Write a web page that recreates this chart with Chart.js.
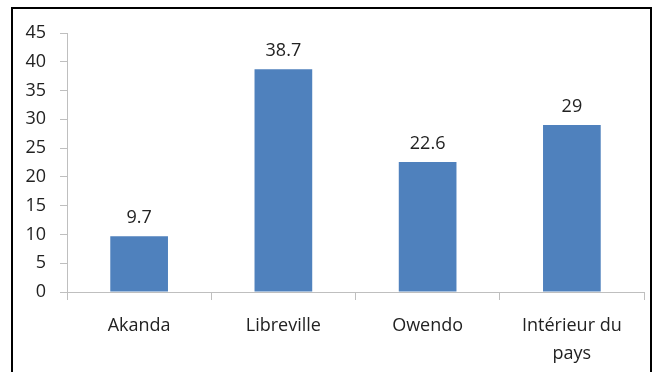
<!DOCTYPE html>
<html>
<head>
<meta charset="utf-8">
<script src="https://cdn.jsdelivr.net/npm/chart.js@4"></script>
<style>
  html, body { margin: 0; padding: 0; background: #fff; }
  #wrap { position: relative; width: 664px; height: 372px; }
  #frame {
    position: absolute; left: 11px; top: 7px; width: 641px; height: 380px;
    border: 2px solid #000; box-sizing: border-box; pointer-events: none;
  }
</style>
</head>
<body>
<div id="wrap">
  <canvas id="chart" width="664" height="372"></canvas>
  <div id="frame"></div>
</div>
<script>
const categories = ["Akanda", "Libreville", "Owendo", ["Intérieur du", "pays"]];
const values = [9.7, 38.7, 22.6, 29];
const yTicks = [0, 5, 10, 15, 20, 25, 30, 35, 40, 45];

const fontFamily = "'Open Sans', 'Noto Sans', sans-serif";

// write the value above each bar
const valueLabels = {
  id: "valueLabels",
  afterDatasetsDraw(chart) {
    const ctx = chart.ctx;
    const meta = chart.getDatasetMeta(0);
    ctx.save();
    ctx.font = "18px " + fontFamily;
    ctx.fillStyle = "#222";
    ctx.textAlign = "center";
    ctx.textBaseline = "middle";
    meta.data.forEach((bar, i) => {
      ctx.fillText(String(values[i]), bar.x, bar.y - 18);
    });
    ctx.restore();
  }
};

new Chart(document.getElementById("chart"), {
  type: "bar",
  data: {
    labels: categories,
    datasets: [{
      data: values,
      backgroundColor: "#4f81bd",
      borderWidth: 0,
      barPercentage: 0.4,
      categoryPercentage: 1
    }]
  },
  options: {
    responsive: false,
    animation: false,
    layout: { padding: { left: 0, right: 20, top: 33, bottom: 0 } },
    plugins: {
      legend: { display: false },
      tooltip: { enabled: false }
    },
    scales: {
      x: {
        grid: {
          offset: true,
          drawOnChartArea: false,
          drawTicks: true,
          tickLength: 8,
          color: "#bfbfbf"
        },
        border: { color: "#bfbfbf", width: 1 },
        ticks: {
          color: "#222",
          padding: 12,
          maxRotation: 0,
          font: { family: fontFamily, size: 18, lineHeight: 1.55 }
        },
        afterFit(scale) { scale.height = 80; }
      },
      y: {
        min: 0,
        max: 45,
        afterBuildTicks(scale) { scale.ticks = yTicks.map(v => ({ value: v })); },
        grid: {
          drawOnChartArea: false,
          drawTicks: true,
          tickLength: 7,
          color: "#bfbfbf"
        },
        border: { color: "#bfbfbf", width: 1 },
        ticks: {
          color: "#222",
          padding: 14,
          font: { family: fontFamily, size: 18 }
        },
        afterFit(scale) { scale.width = 67; }
      }
    }
  },
  plugins: [valueLabels]
});
</script>
</body>
</html>
